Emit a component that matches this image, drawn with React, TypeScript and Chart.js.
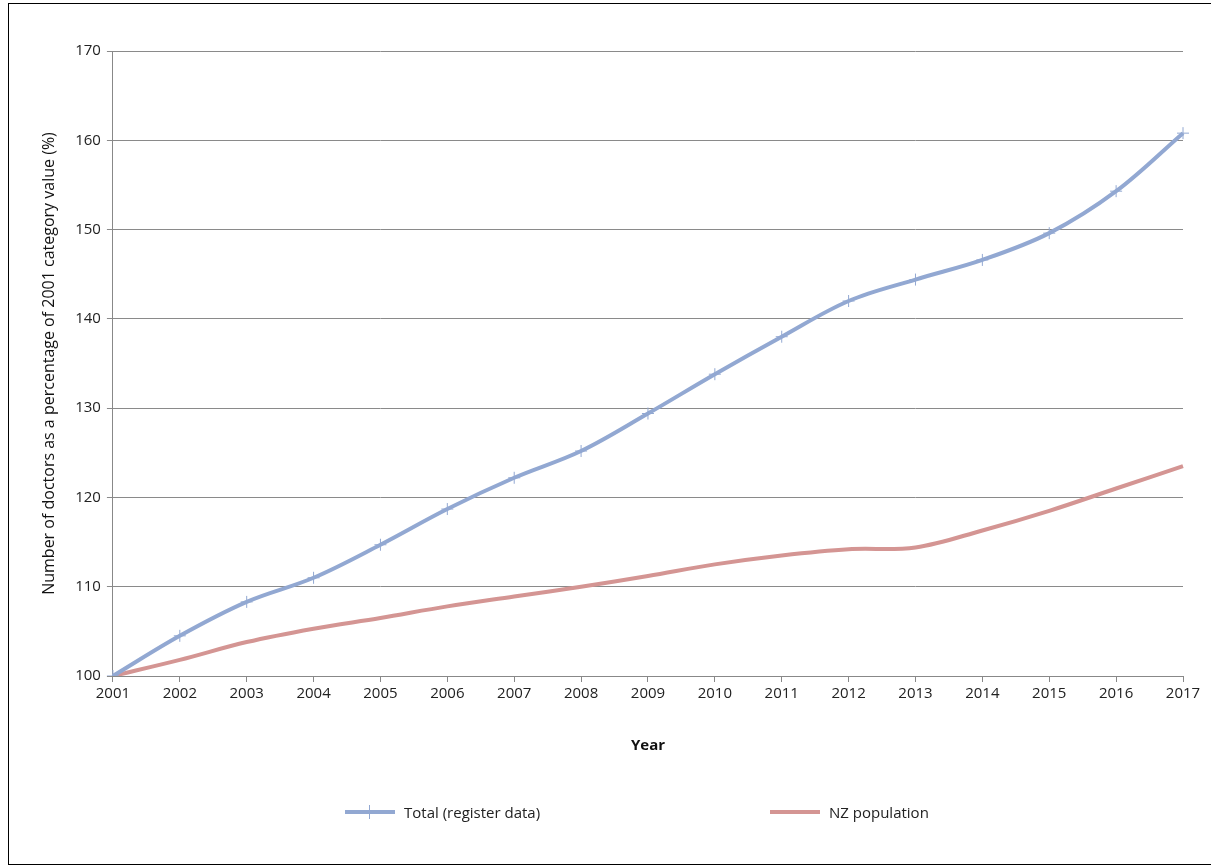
import React, { useRef, useEffect } from 'react';
import { Chart, registerables } from 'chart.js';

Chart.register(...registerables);

const years = ['2001', '2002', '2003', '2004', '2005', '2006', '2007', '2008', '2009', '2010', '2011', '2012', '2013', '2014', '2015', '2016', '2017'];
const totalRegister = [100, 104.5, 108.3, 111, 114.7, 118.7, 122.2, 125.2, 129.4, 133.8, 138, 142, 144.4, 146.6, 149.6, 154.3, 160.8];
const nzPopulation = [100, 101.8, 103.8, 105.3, 106.5, 107.8, 108.9, 110, 111.2, 112.5, 113.5, 114.2, 114.4, 116.3, 118.5, 121, 123.5];

const FONT = 'Open Sans';
const BLUE = '#92a8d2';
const RED = '#d49593';

const App: React.FC = () => {
  const canvas = useRef<HTMLCanvasElement>(null);

  useEffect(() => {
    if (!canvas.current) return;
    const ctx = canvas.current.getContext('2d');
    if (!ctx) return;

    const chart = new Chart(ctx, {
      type: 'line',
      data: {
        labels: years,
        datasets: [
          {
            label: 'Total (register data)',
            data: totalRegister,
            borderColor: BLUE,
            backgroundColor: BLUE,
            borderWidth: 4,
            tension: 0.35,
            pointStyle: 'cross',
            pointRadius: 6,
            pointBorderWidth: 1,
            pointBorderColor: BLUE,
          },
          {
            label: 'NZ population',
            data: nzPopulation,
            borderColor: RED,
            backgroundColor: RED,
            borderWidth: 4,
            tension: 0.35,
            pointRadius: 0,
          },
        ],
      },
      options: {
        animation: false,
        responsive: false,
        layout: { padding: { left: 27, right: 28, top: 47, bottom: 86 } },
        plugins: {
          legend: { display: false },
          tooltip: { enabled: false },
        },
        scales: {
          x: {
            offset: false,
            grid: { drawOnChartArea: false, color: '#888', tickLength: 6 },
            border: { color: '#888' },
            ticks: { color: '#222', font: { family: FONT, size: 15 }, maxRotation: 0 },
            title: { display: true, text: 'Year', color: '#111', font: { family: FONT, size: 15, weight: 'bold' }, padding: { top: 31, bottom: 23 } },
          },
          y: {
            min: 100,
            max: 170,
            ticks: { stepSize: 10, color: '#222', font: { family: FONT, size: 15 }, padding: 6 },
            grid: { color: '#8a8a8a', tickLength: 6 },
            border: { color: '#888' },
            title: { display: true, text: 'Number of doctors as a percentage of 2001 category value (%)', color: '#111', font: { family: FONT, size: 16 }, padding: { bottom: 10 } },
          },
        },
      },
    });
    return () => chart.destroy();
  }, []);

  const legendItem = (left: number, color: string, text: string, cross: boolean) => (
    <div style={{ position: 'absolute', left, top: 802, display: 'flex', alignItems: 'center', fontFamily: FONT, fontSize: 15, color: '#222' }}>
      <div style={{ position: 'relative', width: 50, height: 4, background: color, marginRight: 9 }}>
        {cross && <div style={{ position: 'absolute', left: 24, top: -5, width: 1, height: 14, background: color }} />}
      </div>
      <span>{text}</span>
    </div>
  );

  return (
    <div style={{ position: 'fixed', left: 0, top: 0, width: 1211, height: 868, background: '#fff' }}>
      <div style={{ position: 'absolute', left: 8, top: 3, width: 1203, height: 862, borderLeft: '1px solid #000', borderTop: '1px solid #000', borderBottom: '1px solid #000', boxSizing: 'border-box' }}>
        <canvas ref={canvas} width={1202} height={860}></canvas>
      </div>
      {legendItem(345, BLUE, 'Total (register data)', true)}
      {legendItem(770, RED, 'NZ population', false)}
    </div>
  );
};

export default App;
